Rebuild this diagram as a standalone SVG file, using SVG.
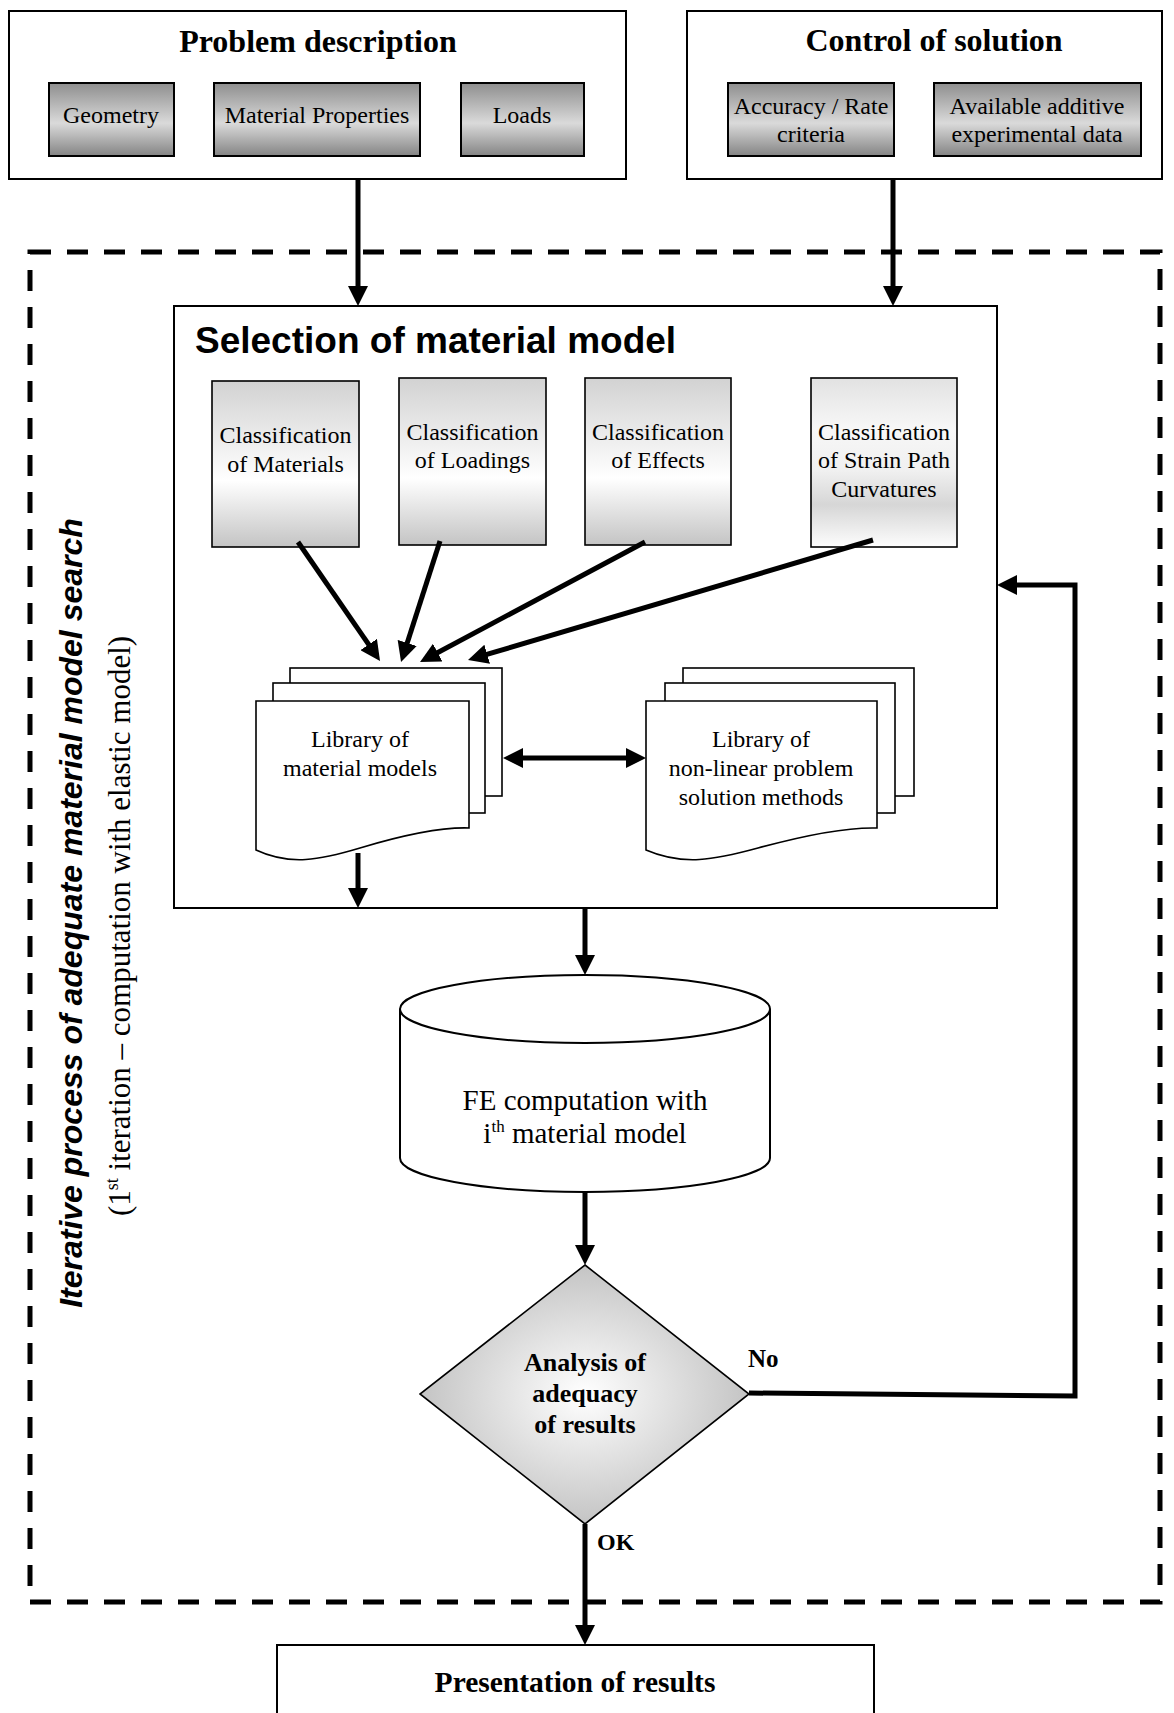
<svg xmlns="http://www.w3.org/2000/svg" width="1174" height="1713" viewBox="0 0 1174 1713">
<style>
.box{fill:#fff;stroke:#000;stroke-width:2}
.thin{fill:#fff;stroke:#000;stroke-width:1.6}
.title{font-family:"Liberation Serif","Times New Roman",serif;font-weight:bold;font-size:32px;text-anchor:middle;fill:#000}
.lbl{font-family:"Liberation Serif","Times New Roman",serif;font-size:24px;text-anchor:middle;fill:#000}
.fe{font-family:"Liberation Serif","Times New Roman",serif;font-size:29px;text-anchor:middle;fill:#000}
.blbl{font-family:"Liberation Serif","Times New Roman",serif;font-weight:bold;font-size:26px;text-anchor:middle;fill:#000}
.conn{fill:none;stroke:#000;stroke-width:5}
.arr{marker-end:url(#ah)}
</style>
<defs>
<marker id="ah" viewBox="0 0 20 20" refX="12" refY="10" markerWidth="20" markerHeight="20" markerUnits="userSpaceOnUse" orient="auto-start-reverse">
<path d="M0,0 L20,10 L0,20 Z" fill="#000"/>
</marker>
<linearGradient id="gGray" x1="0" y1="0" x2="0" y2="1">
<stop offset="0" stop-color="#8e8e8e"/>
<stop offset="0.55" stop-color="#dadada"/>
<stop offset="1" stop-color="#848484"/>
</linearGradient>
<linearGradient id="gClass" x1="0" y1="0" x2="0" y2="1">
<stop offset="0" stop-color="#d2d2d2"/>
<stop offset="0.6" stop-color="#ffffff"/>
<stop offset="1" stop-color="#c4c4c4"/>
</linearGradient>
<linearGradient id="gClass4" x1="0" y1="0" x2="0" y2="1">
<stop offset="0" stop-color="#e2e2e2"/>
<stop offset="0.3" stop-color="#f7f7f7"/>
<stop offset="0.55" stop-color="#f0f0f0"/>
<stop offset="0.75" stop-color="#d6d6d6"/>
<stop offset="1" stop-color="#fdfdfd"/>
</linearGradient>
<radialGradient id="gDia" cx="0.5" cy="0.5" r="0.5">
<stop offset="0" stop-color="#ffffff"/>
<stop offset="1" stop-color="#c4c4c4"/>
</radialGradient>
</defs>

<g id="iteration-frame">
<rect x="30" y="252" width="1130" height="1350" fill="none" stroke="#000" stroke-width="5" stroke-dasharray="21 16"/>
<text transform="translate(82,913) rotate(-90)" font-family="Liberation Sans, Arial, sans-serif" font-weight="bold" font-style="italic" font-size="32" text-anchor="middle">Iterative process of adequate material model search</text>
<text transform="translate(130,926) rotate(-90)" font-family="Liberation Serif, Times New Roman, serif" font-size="31" text-anchor="middle">(1<tspan dy="-12" font-size="18">st</tspan><tspan dy="12"> iteration – computation with elastic model)</tspan></text>
</g>

<g id="problem-description">
<rect class="box" x="9" y="11" width="617" height="168"/>
<text class="title" x="318" y="52">Problem description</text>
<g id="geometry"><rect x="49" y="83" width="125" height="73" fill="url(#gGray)" stroke="#000" stroke-width="2"/><text class="lbl" x="111" y="123">Geometry</text></g>
<g id="material-properties"><rect x="214" y="83" width="206" height="73" fill="url(#gGray)" stroke="#000" stroke-width="2"/><text class="lbl" x="317" y="123">Material Properties</text></g>
<g id="loads"><rect x="461" y="83" width="123" height="73" fill="url(#gGray)" stroke="#000" stroke-width="2"/><text class="lbl" x="522" y="123">Loads</text></g>
</g>

<g id="control-of-solution">
<rect class="box" x="687" y="11" width="475" height="168"/>
<text class="title" x="934" y="51">Control of solution</text>
<g id="accuracy"><rect x="728" y="83" width="166" height="73" fill="url(#gGray)" stroke="#000" stroke-width="2"/><text class="lbl" x="811" y="114">Accuracy / Rate</text><text class="lbl" x="811" y="142">criteria</text></g>
<g id="experimental-data"><rect x="934" y="83" width="207" height="73" fill="url(#gGray)" stroke="#000" stroke-width="2"/><text class="lbl" x="1037" y="114">Available additive</text><text class="lbl" x="1037" y="142">experimental data</text></g>
</g>

<g id="selection-of-material-model">
<rect class="box" x="174" y="306" width="823" height="602"/>
<text x="195" y="353" font-family="Liberation Sans, Arial, sans-serif" font-weight="bold" font-size="37">Selection of material model</text>
</g>

<g id="class-materials"><rect x="212" y="381" width="147" height="166" fill="url(#gClass)" stroke="#000" stroke-width="1.6"/><text class="lbl" x="285.5" y="443">Classification</text><text class="lbl" x="285.5" y="472">of Materials</text></g>
<g id="class-loadings"><rect x="399" y="378" width="147" height="167" fill="url(#gClass)" stroke="#000" stroke-width="1.6"/><text class="lbl" x="472.5" y="440">Classification</text><text class="lbl" x="472.5" y="468">of Loadings</text></g>
<g id="class-effects"><rect x="585" y="378" width="146" height="167" fill="url(#gClass)" stroke="#000" stroke-width="1.6"/><text class="lbl" x="658" y="440">Classification</text><text class="lbl" x="658" y="468">of Effects</text></g>
<g id="class-strain-path"><rect x="811" y="378" width="146" height="169" fill="url(#gClass4)" stroke="#000" stroke-width="1.6"/><text class="lbl" x="884" y="440">Classification</text><text class="lbl" x="884" y="468">of Strain Path</text><text class="lbl" x="884" y="497">Curvatures</text></g>

<g id="library-material-models">
<rect class="thin" x="290" y="668" width="212" height="128"/>
<rect class="thin" x="273" y="683" width="212" height="130"/>
<path class="thin" d="M256,701 H469 V828 C440,827 400,836 360,848 C320,860 290,866 256,850 Z"/>
<text class="lbl" x="360" y="747">Library of</text>
<text class="lbl" x="360" y="776">material models</text>
</g>

<g id="library-solution-methods">
<rect class="thin" x="683" y="668" width="231" height="128"/>
<rect class="thin" x="665" y="683" width="230" height="130"/>
<path class="thin" d="M646,701 H877 V828 C845,827 802,836 758,848 C714,860 683,866 646,850 Z"/>
<text class="lbl" x="761" y="747">Library of</text>
<text class="lbl" x="761" y="776">non-linear problem</text>
<text class="lbl" x="761" y="805">solution methods</text>
</g>

<g id="fe-computation">
<path d="M400,1009 A185,34 0 0,1 770,1009 V1158 A185,34 0 0,1 400,1158 Z" fill="#fff" stroke="#000" stroke-width="2"/>
<path d="M400,1009 A185,34 0 0,0 770,1009" fill="none" stroke="#000" stroke-width="2"/>
<text class="fe" x="585" y="1110">FE computation with</text>
<text class="fe" x="585" y="1143">i<tspan dy="-11" style="font-size:17px">th</tspan><tspan dy="11"> material model</tspan></text>
</g>

<g id="analysis-of-adequacy">
<polygon points="585,1265 749,1394 585,1524 420,1394" fill="url(#gDia)" stroke="#000" stroke-width="1.6"/>
<text class="blbl" x="585" y="1371">Analysis of</text>
<text class="blbl" x="585" y="1402">adequacy</text>
<text class="blbl" x="585" y="1433">of results</text>
</g>

<g id="presentation-of-results">
<rect class="box" x="277" y="1645" width="597" height="80"/>
<text class="title" x="575" y="1692" style="font-size:29.5px">Presentation of results</text>
</g>

<g id="connectors">
<path class="conn arr" d="M358,179 V298"/>
<path class="conn arr" d="M893,179 V298"/>
<path class="conn arr" d="M298,542 L375.5,654.4"/>
<path class="conn arr" d="M440,541 L403.5,654.4"/>
<path class="conn arr" d="M645,542 L427.1,658.2"/>
<path class="conn arr" d="M873,540 L475.7,657.7"/>
<path class="conn arr" d="M511,758 H638" marker-start="url(#ah)"/>
<path class="conn arr" d="M358,853 V900"/>
<path class="conn arr" d="M585,908 V967"/>
<path class="conn arr" d="M585,1192 V1257"/>
<path class="conn arr" d="M585,1524 V1637"/>
<path class="conn arr" d="M749,1393 L1075,1396 V585 H1005"/>
<text x="748" y="1367" font-family="Liberation Serif, Times New Roman, serif" font-weight="bold" font-size="25">No</text>
<text x="597" y="1550" font-family="Liberation Serif, Times New Roman, serif" font-weight="bold" font-size="24">OK</text>
</g>
</svg>
